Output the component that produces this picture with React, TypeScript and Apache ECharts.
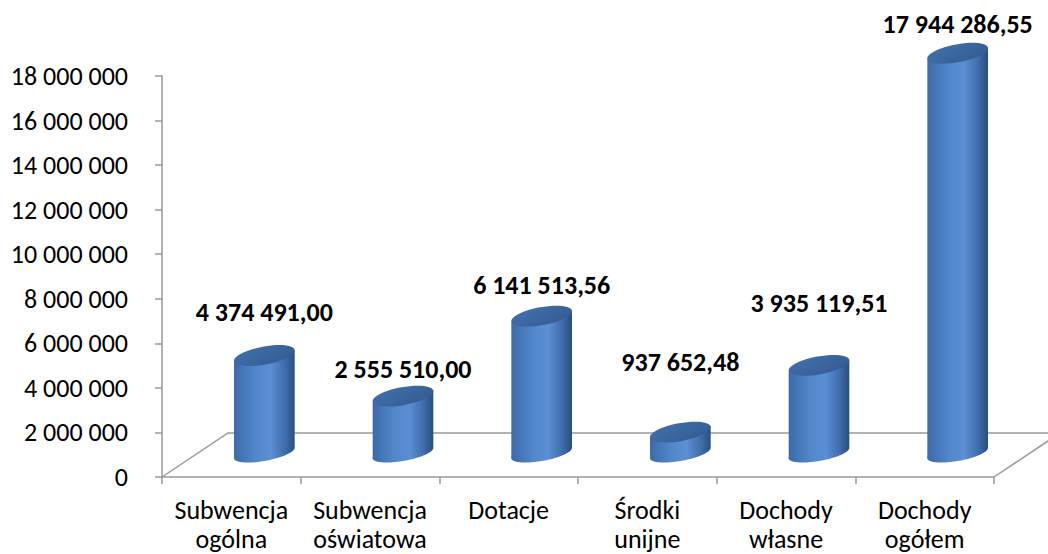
import React, { useEffect, useRef } from "react";
import * as echarts from "echarts";

// ---- data ----
const categories = [
  "Subwencja\nogólna",
  "Subwencja\noświatowa",
  "Dotacje",
  "Środki\nunijne",
  "Dochody\nwłasne",
  "Dochody\nogółem",
];
const values = [4374491.0, 2555510.0, 6141513.56, 937652.48, 3935119.51, 17944286.55];
const yMin = 0;
const yMax = 18000000;
const yStep = 2000000;

// ---- layout (not data) ----
const DEPTH_X = 66; // floor depth, horizontal
const DEPTH_Y = -44; // floor depth, vertical
const CYL_DX = 33;
const CYL_DY = -24;
const TILT = 0.18;
const labelLift = [-44, -27, -31, -70, -62, -29];
const FONT = "Carlito, Calibri, Lato, 'Noto Sans', sans-serif";

function groupThousands(s: string): string {
  return s.replace(/\B(?=(\d{3})+(?!\d))/g, " ");
}
function fmtAxis(n: number): string {
  return groupThousands(String(Math.round(n)));
}
function fmtValue(n: number): string {
  const [i, d] = n.toFixed(2).split(".");
  return groupThousands(i) + "," + d;
}

export default function App() {
  const ref = useRef<HTMLDivElement>(null);
  useEffect(() => {
    if (!ref.current) return;
    const chart = echarts.init(ref.current, undefined, { renderer: "svg" });

    const bodyGrad = () =>
      new echarts.graphic.LinearGradient(0, 0, 1, 0, [
        { offset: 0, color: "#3c6aaa" },
        { offset: 0.35, color: "#5187cb" },
        { offset: 0.6, color: "#5b8fd5" },
        { offset: 0.85, color: "#3f6ba8" },
        { offset: 1, color: "#2a4d7e" },
      ]);
    const topGrad = () =>
      new echarts.graphic.LinearGradient(0, 0, 1, 1, [
        { offset: 0, color: "#4271ad" },
        { offset: 1, color: "#335a8f" },
      ]);

    const option: any = {
      animation: false,
      backgroundColor: "#ffffff",
      grid: { left: 162, right: 54, top: 76, bottom: 77, containLabel: false },
      xAxis: {
        type: "category",
        data: categories,
        axisLine: { show: true, lineStyle: { color: "#9a9a9a", width: 1.5 } },
        axisTick: { show: true, length: 7, lineStyle: { color: "#9a9a9a", width: 1.5 } },
        axisLabel: {
          color: "#000",
          fontFamily: FONT,
          fontSize: 26,
          lineHeight: 29,
          margin: 18,
          interval: 0,
        },
        splitLine: { show: false },
      },
      yAxis: {
        type: "value",
        min: yMin,
        max: yMax,
        interval: yStep,
        axisLine: { show: true, lineStyle: { color: "#9a9a9a", width: 1.5 } },
        axisTick: { show: true, length: 7, lineStyle: { color: "#9a9a9a", width: 1.5 } },
        axisLabel: {
          color: "#000",
          fontFamily: FONT,
          fontSize: 26,
          margin: 34,
          formatter: (v: number) => fmtAxis(v),
        },
        splitLine: { show: false },
      },
      series: [
        {
          type: "custom",
          name: "floor",
          silent: true,
          z: 1,
          data: [[0, 0]],
          renderItem: (params: any, api: any) => {
            const w = api.size([1, 0])[0];
            const p0 = api.coord([0, 0]);
            const p5 = api.coord([categories.length - 1, 0]);
            const left = p0[0] - w / 2;
            const right = p5[0] + w / 2;
            const y0 = p0[1];
            return {
              type: "polyline",
              shape: {
                points: [
                  [left, y0],
                  [left + DEPTH_X, y0 + DEPTH_Y],
                  [right + DEPTH_X, y0 + DEPTH_Y],
                  [right, y0],
                ],
              },
              style: { stroke: "#9a9a9a", lineWidth: 1.5, fill: "none" },
            };
          },
        },
        {
          type: "custom",
          name: "values",
          z: 3,
          data: values.map((v, i) => [i, v]),
          renderItem: (params: any, api: any) => {
            const i = api.value(0);
            const v = api.value(1);
            const base = api.coord([i, 0]);
            const top = api.coord([i, v]);
            const catW = api.size([1, 0])[0];
            const rx = catW * 0.222;
            const ryTop = 9;
            const ryBot = 8;
            const cx = base[0] + CYL_DX;
            const cyB = base[1] + CYL_DY;
            const cyT = top[1] + CYL_DY;
            const a = Math.sqrt(rx * rx * Math.cos(TILT) ** 2 + ryTop * ryTop * Math.sin(TILT) ** 2);
            const b = rx * Math.sin(TILT);
            return {
              type: "group",
              children: [
                {
                  type: "ellipse",
                  x: cx,
                  y: cyB,
                  rotation: TILT,
                  shape: { cx: 0, cy: 0, rx: rx, ry: ryBot },
                  style: { fill: bodyGrad() },
                },
                {
                  type: "polygon",
                  shape: {
                    points: [
                      [cx - a, cyT + b],
                      [cx + a, cyT - b],
                      [cx + a, cyB - b],
                      [cx - a, cyB + b],
                    ],
                  },
                  style: { fill: bodyGrad() },
                },
                {
                  type: "ellipse",
                  x: cx,
                  y: cyT,
                  rotation: TILT,
                  shape: { cx: 0, cy: 0, rx: rx, ry: ryTop },
                  style: { fill: topGrad() },
                },
                {
                  type: "text",
                  x: cx,
                  y: cyT + labelLift[i],
                  style: {
                    text: fmtValue(v),
                    fontFamily: FONT,
                    fontSize: 26,
                    fontWeight: "bold",
                    fill: "#000",
                    align: "center",
                    verticalAlign: "middle",
                  },
                },
              ],
            };
          },
        },
      ],
    };
    chart.setOption(option);
    return () => chart.dispose();
  }, []);
  return <div ref={ref} style={{ width: 1048, height: 554, position: "absolute", left: 0, top: 0 }} />;
}
